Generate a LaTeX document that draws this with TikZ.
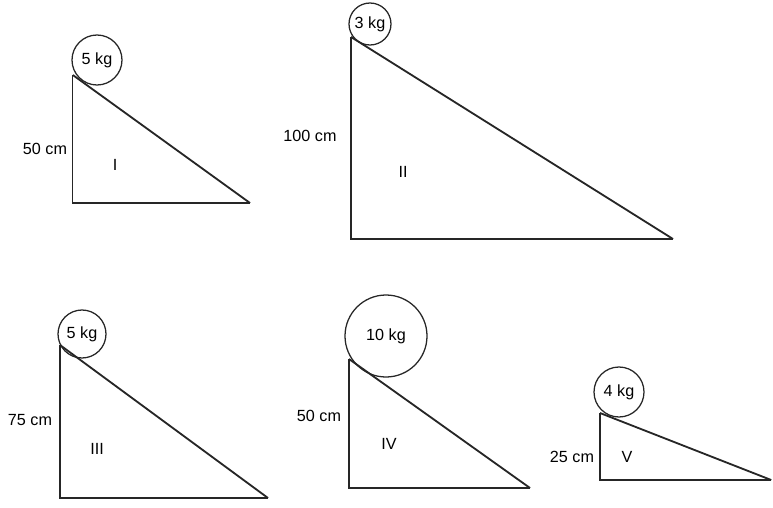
\documentclass[tikz,border=0pt]{standalone}
\usepackage{fontspec}
\setmainfont{Liberation Sans}
\usetikzlibrary{positioning,calc}
\tikzset{
  ramp/.style={draw=black!85,line width=0.9pt,line join=miter},
  slope/.style={draw=black!85,line width=1.3pt},
  ball/.style={circle,draw=black!85,line width=0.9pt,inner sep=0pt,font=\fontsize{11.5}{13}\selectfont},
  lenlbl/.style={font=\fontsize{11.5}{13}\selectfont},
  numlbl/.style={font=\fontsize{11.5}{13}\selectfont}
}
\begin{document}
\begin{tikzpicture}
  \useasboundingbox (0,0) rectangle (19.325,-12.675);
  % Ramp I
  \coordinate (topI) at (1.82,-1.875);
  \coordinate (botI) at (1.82,-5.075);
  \coordinate (rgtI) at (6.25,-5.075);
  \draw[ramp] (topI) -- (botI) -- (rgtI);
  \draw[slope] (topI) -- (rgtI);
  \node[ball, minimum size=1.25cm] (ballI) at (2.425,-1.5) {5 kg};
  \node[lenlbl] (hI) at (1.125,-3.725) {50 cm};
  \node[numlbl] (nI) at (2.875,-4.125) {I};

  % Ramp II
  \coordinate (topII) at (8.775,-0.925);
  \coordinate (botII) at (8.775,-5.975);
  \coordinate (rgtII) at (16.825,-5.975);
  \draw[ramp] (topII) -- (botII) -- (rgtII);
  \draw[slope] (topII) -- (rgtII);
  \node[ball, minimum size=1.05cm] (ballII) at (9.25,-0.6) {3 kg};
  \node[lenlbl] (hII) at (7.75,-3.4) {100 cm};
  \node[numlbl] (nII) at (10.075,-4.3) {II};

  % Ramp III
  \coordinate (topIII) at (1.5,-8.625);
  \coordinate (botIII) at (1.5,-12.45);
  \coordinate (rgtIII) at (6.7,-12.45);
  \draw[ramp] (topIII) -- (botIII) -- (rgtIII);
  \draw[slope] (topIII) -- (rgtIII);
  \node[ball, minimum size=1.2cm] (ballIII) at (2.05,-8.35) {5 kg};
  \node[lenlbl] (hIII) at (0.75,-10.5) {75 cm};
  \node[numlbl] (nIII) at (2.425,-11.225) {III};

  % Ramp IV
  \coordinate (topIV) at (8.725,-8.975);
  \coordinate (botIV) at (8.725,-12.2);
  \coordinate (rgtIV) at (13.25,-12.2);
  \draw[ramp] (topIV) -- (botIV) -- (rgtIV);
  \draw[slope] (topIV) -- (rgtIV);
  \node[ball, minimum size=2.05cm] (ballIV) at (9.65,-8.4) {10 kg};
  \node[lenlbl] (hIV) at (7.975,-10.4) {50 cm};
  \node[numlbl] (nIV) at (9.725,-11.1) {IV};

  % Ramp V
  \coordinate (topV) at (15.0,-10.325);
  \coordinate (botV) at (15.0,-12.0);
  \coordinate (rgtV) at (19.28,-12.0);
  \draw[ramp] (topV) -- (botV) -- (rgtV);
  \draw[slope] (topV) -- (rgtV);
  \node[ball, minimum size=1.25cm] (ballV) at (15.475,-9.8) {4 kg};
  \node[lenlbl] (hV) at (14.3,-11.425) {25 cm};
  \node[numlbl] (nV) at (15.675,-11.425) {V};
\end{tikzpicture}
\end{document}
